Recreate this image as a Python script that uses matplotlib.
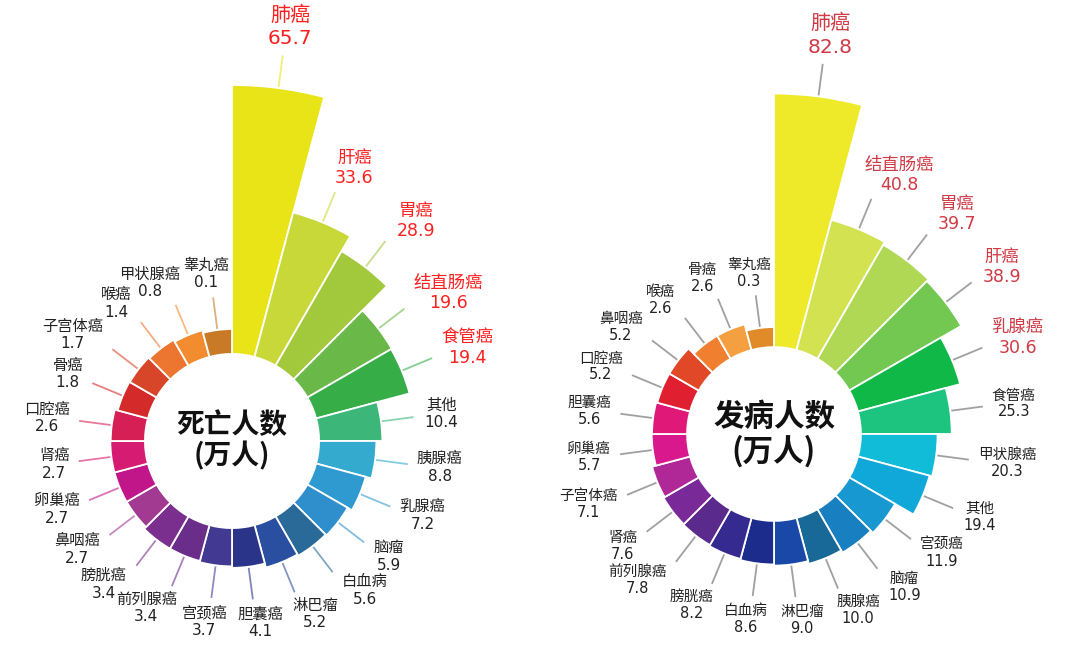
import numpy as np
import matplotlib.pyplot as plt
import matplotlib.colors as mcolors
from matplotlib.transforms import offset_copy

plt.rcParams['font.family'] = ['DejaVu Sans', 'Noto Sans CJK SC']

# 死亡人数（万人），从顶部顺时针
death_names = ['肺癌', '肝癌', '胃癌', '结直肠癌', '食管癌', '其他', '胰腺癌', '乳腺癌',
               '脑瘤', '白血病', '淋巴瘤', '胆囊癌', '宫颈癌', '前列腺癌', '膀胱癌', '鼻咽癌',
               '卵巢癌', '肾癌', '口腔癌', '骨癌', '子宫体癌', '喉癌', '甲状腺癌', '睾丸癌']
death_values = [65.7, 33.6, 28.9, 19.6, 19.4, 10.4, 8.8, 7.2,
                5.9, 5.6, 5.2, 4.1, 3.7, 3.4, 3.4, 2.7,
                2.7, 2.7, 2.6, 1.8, 1.7, 1.4, 0.8, 0.1]
death_colors = ['#e8e418', '#c8d838', '#a2c83c', '#6ab848', '#37ad48', '#3cb779', '#34aacf', '#2e9ad0',
                '#2f8fcc', '#2a6a98', '#2a4ea0', '#2a3488', '#423a92', '#6a2d8a', '#7a2f8e', '#a23a92',
                '#c0168a', '#d51b72', '#d61f55', '#d42a2a', '#d8462a', '#ec7530', '#f28c2e', '#c97a26']

# 发病人数（万人），从顶部顺时针
new_names = ['肺癌', '结直肠癌', '胃癌', '肝癌', '乳腺癌', '食管癌', '甲状腺癌', '其他',
             '宫颈癌', '脑瘤', '胰腺癌', '淋巴瘤', '白血病', '膀胱癌', '前列腺癌', '肾癌',
             '子宫体癌', '卵巢癌', '胆囊癌', '口腔癌', '鼻咽癌', '喉癌', '骨癌', '睾丸癌']
new_values = [82.8, 40.8, 39.7, 38.9, 30.6, 25.3, 20.3, 19.4,
              11.9, 10.9, 10.0, 9.0, 8.6, 8.2, 7.8, 7.6,
              7.1, 5.7, 5.6, 5.2, 5.2, 2.6, 2.6, 0.3]
new_colors = ['#eeea2a', '#d2e250', '#b0d854', '#72c850', '#10b848', '#1cc480', '#10bcd8', '#10a8d8',
              '#1898d0', '#1880c0', '#186898', '#1a48a8', '#1c2c8c', '#352a90', '#5a2a8c', '#7a2a98',
              '#b02898', '#d8188c', '#e01878', '#e02030', '#e04828', '#f08030', '#f5a040', '#e08a28']

W, H = 1080, 660
fig = plt.figure(figsize=(W / 100, H / 100), dpi=100)


def lighten(c, t):
    r, g, b = mcolors.to_rgb(c)
    return (r + (1 - r) * t, g + (1 - g) * t, b + (1 - b) * t)


def rose(cx, cy, unit, base, hole, names, values, colors, title, title_size,
         red, top_size, red_size, text_size, leader_gray):
    half = 400
    ax = fig.add_axes([(cx - half) / W, (H - cy - half) / H, 2 * half / W, 2 * half / H],
                      projection='polar')
    ax.set_theta_zero_location('N')
    ax.set_theta_direction(-1)
    ax.set_ylim(0, half / unit)
    ax.axis('off')
    ax.patch.set_visible(False)

    n = len(values)
    width = 2 * np.pi / n
    theta = np.arange(n) * width + width / 2
    tops = base + np.array(values)
    ax.bar(theta, tops - hole, width=width, bottom=hole, color=colors,
           edgecolor='white', linewidth=1.3)

    for i in range(n):
        t = theta[i]
        lc = '#a0a0a0' if leader_gray else lighten(colors[i], 0.4)
        ax.plot([t, t], [tops[i] + 2 / unit, tops[i] + 32 / unit], color=lc, lw=1.3)

        if i == 0:
            fs, col = top_size, red
        elif i < 5:
            fs, col = red_size, red
        else:
            fs, col = text_size, '#222222'
        val = f'{values[i]:.1f}'
        # rough box size of the two-line label, in pixels
        em = fs * 100 / 72
        w = max(len(names[i]) * em, len(val) * 0.6 * em)
        h = 2.15 * em
        s, c = np.sin(t), np.cos(t)
        dx = np.clip(s / 0.6, -1, 1) * (w / 2 + 10)
        dy = c * (h / 2 + 8)
        for txt, shift in ((names[i], 0.58 * em), (val, -0.58 * em)):
            tr = offset_copy(ax.transData, fig=fig, x=dx, y=dy + shift, units='dots')
            ax.text(t, tops[i] + 32 / unit, txt, transform=tr, ha='center', va='center',
                    fontsize=fs, color=col)

    ax.text(0, 0, title, ha='center', va='center', fontsize=title_size,
            fontweight='bold', family='Noto Sans CJK SC', linespacing=1.1, color='#111111')


rose(232, 441, 3.72, 30.0, 23.4, death_names, death_values, death_colors,
     '死亡人数\n(万人)', 20, '#ff1f1f', 14.5, 12.5, 11, False)
rose(774, 434, 2.83, 37.5, 30.7, new_names, new_values, new_colors,
     '发病人数\n(万人)', 22, '#cf3a45', 14.5, 12.5, 10.5, True)

fig.savefig('out.png', dpi=100)
